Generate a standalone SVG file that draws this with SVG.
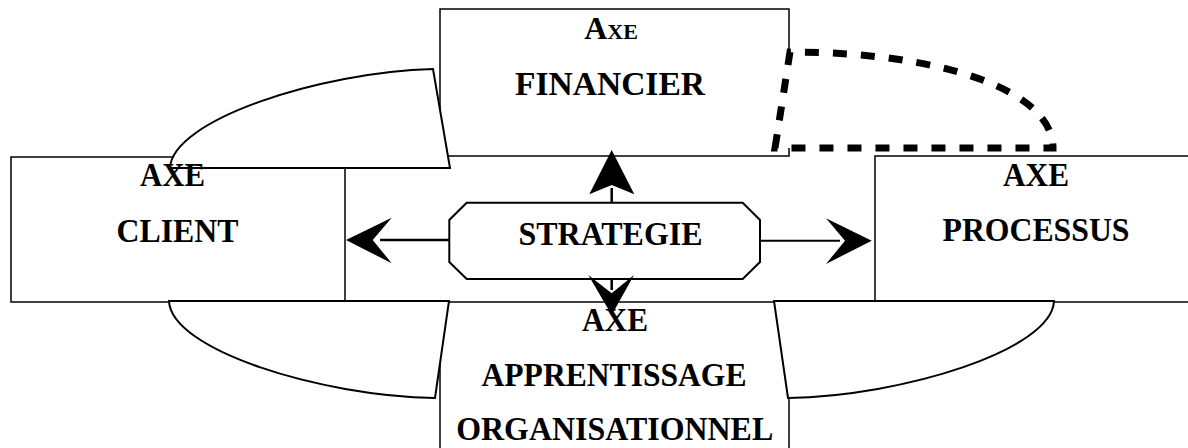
<svg xmlns="http://www.w3.org/2000/svg" width="1188" height="448" viewBox="0 0 1188 448">
<style>
.box{fill:#fff;stroke:#000;stroke-width:1.5}
.shape{fill:#fff;stroke:#000;stroke-width:2}
.dash{fill:#fff;stroke:#000;stroke-width:7;stroke-dasharray:14 14}
.lbl{font-family:"Liberation Serif","Times New Roman",serif;font-weight:bold;font-size:34px;fill:#000;text-anchor:middle}
.stem{stroke:#000;stroke-width:2.5;fill:none}
.head{fill:#000;stroke:none}
</style>
<rect width="1188" height="448" fill="#fff"/>
<g id="financier">
<rect class="box" x="440" y="9" width="349" height="147"/>
</g>
<g id="client">
<rect class="box" x="11" y="157" width="334" height="145"/>
</g>
<g id="processus">
<rect class="box" x="875" y="156" width="330" height="146"/>
</g>
<g id="apprentissage">
<rect class="box" x="440" y="302" width="349" height="170"/>
</g>
<g id="shapes">
<path class="shape" d="M170,168 C172,120 320,72 433,69 L450,168 Z"/>
<path class="shape" d="M169,301 C171,350 320,396 435,398 L449,301 Z"/>
<path class="shape" d="M1054,301 C1052,350 903,396 788,398 L774,301 Z"/>
<path class="dash" d="M775,148 L790,52 C940,52 1053,90 1053,148 Z"/>
</g>
<g id="strategie">
<polygon class="shape" points="466.7,202.7 742.7,202.7 760,220 760,262 742.7,279 466.7,279 449.3,262 449.3,220"/>
</g>
<g id="connectors">
<line class="stem" x1="449" y1="240" x2="380" y2="240"/>
<polygon class="head" points="346,240 391.7,217.7 372.7,240 391.7,263.3"/>
<line class="stem" x1="760" y1="240.7" x2="840" y2="240.7" style="stroke-width:2"/>
<polygon class="head" points="871.7,240.7 826,218.3 845,240.7 826,264"/>
<line class="stem" x1="611.7" y1="202.7" x2="611.7" y2="188"/>
<polygon class="head" points="611.7,150 634.3,194.3 611.7,185 589.3,194.3"/>
<line class="stem" x1="611.7" y1="279" x2="611.7" y2="290"/>
<polygon class="head" points="611.7,315 634,275 611.7,293.3 588.3,275"/>
</g>
<g id="labels">
<text class="lbl" x="611" y="39"><tspan font-size="32">A</tspan><tspan font-size="22">XE</tspan></text>
<text class="lbl" x="610" y="95" textLength="190" lengthAdjust="spacingAndGlyphs">FINANCIER</text>
<text class="lbl" x="172.5" y="186" textLength="65" lengthAdjust="spacingAndGlyphs">AXE</text>
<text class="lbl" x="177.5" y="242" textLength="122" lengthAdjust="spacingAndGlyphs">CLIENT</text>
<text class="lbl" x="1036" y="186" textLength="66" lengthAdjust="spacingAndGlyphs">AXE</text>
<text class="lbl" x="1036" y="241" textLength="187" lengthAdjust="spacingAndGlyphs">PROCESSUS</text>
<text class="lbl" x="610.5" y="245" textLength="184" lengthAdjust="spacingAndGlyphs">STRATEGIE</text>
<text class="lbl" x="615" y="331" textLength="66" lengthAdjust="spacingAndGlyphs">AXE</text>
<text class="lbl" x="614" y="386" textLength="265" lengthAdjust="spacingAndGlyphs">APPRENTISSAGE</text>
<text class="lbl" x="614.7" y="440" textLength="317" lengthAdjust="spacingAndGlyphs">ORGANISATIONNEL</text>
</g>
</svg>
